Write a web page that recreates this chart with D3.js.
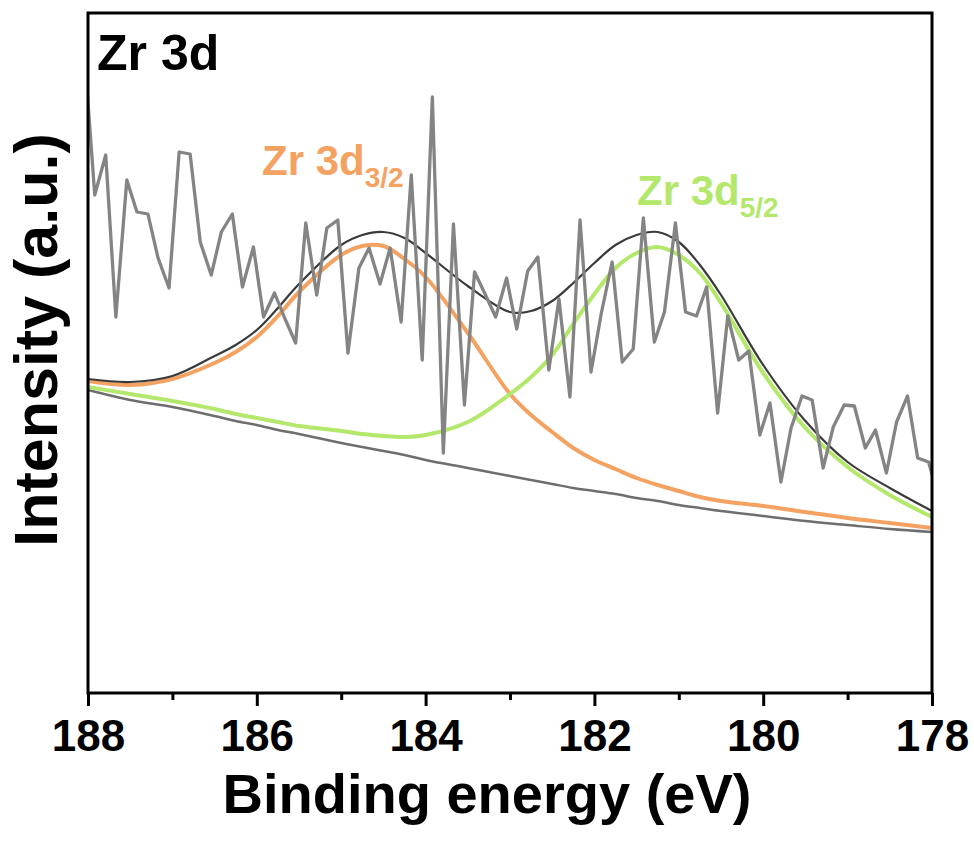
<!DOCTYPE html>
<html>
<head>
<meta charset="utf-8">
<script src="https://cdn.jsdelivr.net/npm/d3@7"></script>
<style>
    body { margin: 0; background: #fff; }
    svg { display: block; font-family: "Liberation Sans", Arial, sans-serif; font-weight: bold; }
</style>
</head>
<body>
<svg id="chart" width="974" height="843"></svg>
<script>
/*************************************************************************/

// raw Zr 3d spectrum (binding energy, intensity in a.u.)
const rawBE = [188.04,
    187.92, 187.79, 187.67, 187.54, 187.42, 187.29, 187.17, 187.04,
    186.92, 186.79, 186.67, 186.54, 186.42, 186.29, 186.17, 186.04,
    185.92, 185.79, 185.67, 185.54, 185.42, 185.29, 185.17, 185.04,
    184.92, 184.79, 184.67, 184.54, 184.42, 184.29, 184.17, 184.04,
    183.92, 183.79, 183.67, 183.54, 183.42, 183.29, 183.17, 183.04,
    182.92, 182.79, 182.67, 182.54, 182.42, 182.29, 182.17, 182.04,
    181.92, 181.79, 181.67, 181.54, 181.42, 181.29, 181.17, 181.04,
    180.92, 180.79, 180.67, 180.54, 180.42, 180.29, 180.17, 180.04,
    179.92, 179.79, 179.67, 179.54, 179.42, 179.29, 179.17, 179.04,
    178.92, 178.79, 178.67, 178.54, 178.42, 178.29, 178.17, 178.04,
    177.92];
const rawCounts = [637,
    498, 538, 376, 513, 481, 479, 435, 405,
    541, 539, 451, 418, 461, 479, 406, 446,
    376, 400, 375, 350, 470, 398, 465, 473,
    340, 425, 445, 409, 445, 371, 518, 333,
    596, 240, 469, 288, 421, 398, 376, 415,
    364, 422, 436, 323, 394, 296, 473, 321,
    379, 431, 331, 344, 475, 351, 381, 470,
    381, 377, 406, 280, 377, 333, 342, 258,
    290, 211, 265, 297, 293, 225, 266, 288,
    287, 245, 263, 220, 271, 297, 235, 231,
    194];

// fitted curves
const fitBE      = [188, 187.5, 187, 186.5, 186.25, 186, 185.75, 185.5, 185, 184.75, 184.5, 184.25, 184, 183.5, 183, 182.75, 182.5, 182.25, 182, 181.75, 181.5, 181.25, 181, 180.75, 180.5, 180, 179.5, 179, 178.5, 178];
const background = [303, 293, 286, 277, 272, 268, 263, 259, 250, 246, 242, 238, 233, 225, 217, 213, 209, 205, 202, 199, 195, 192, 188, 185, 182, 177, 172, 168, 164, 161];
const peak32     = [312, 308, 314, 330, 341, 356, 377, 401, 438, 447, 447, 434, 416, 360, 299, 278, 261, 245, 233, 224, 215, 208, 202, 196, 192, 187, 181, 175, 170, 165];
const peak52     = [306, 299, 292, 284, 279, 275, 271, 267, 262, 259, 257, 256, 258, 271, 299, 316, 338, 369, 399, 425, 440, 446, 438, 420, 390, 320, 265, 226, 198, 176];
const envelope   = [314, 311, 317, 337, 348, 363, 385, 409, 448, 458, 461, 455, 440, 407, 381, 382, 392, 410, 430, 448, 458, 461, 451, 428, 398, 328, 272, 231, 205, 182];

const xTicks      = [188, 186, 184, 182, 180, 178];
const xMinorTicks = [187, 185, 183, 181, 179];

/*************************************************************************/

const svg = d3.select('#chart');

const x = d3.scaleLinear().domain([188, 178]).range([88, 932]);
const y = d3.scaleLinear().domain([0, 680]).range([693, 13]);

svg.append('defs').append('clipPath')
    .attr('id', 'plotclip')
    .append('rect')
    .attr('x', x(188)).attr('y', y(680))
    .attr('width', x(178) - x(188)).attr('height', y(0) - y(680));

const line = d3.line()
    .x(d => x(d[0]))
    .y(d => y(d[1]))
    .curve(d3.curveCatmullRom.alpha(0.5));

const plot = svg.append('g').attr('clip-path', 'url(#plotclip)');

const curves = [
    { values: background, color: '#6e6e6e', width: 2.5 },
    { values: peak32,     color: '#f4a261', width: 4 },
    { values: peak52,     color: '#b4e86c', width: 4 },
    { values: envelope,   color: '#3a3a3a', width: 2.2 }
];

plot.selectAll('path.fit')
    .data(curves)
    .enter().append('path')
    .attr('class', 'fit')
    .attr('d', c => line(fitBE.map((e, i) => [e, c.values[i]])))
    .style('fill', 'none')
    .style('stroke', c => c.color)
    .style('stroke-width', c => c.width);

plot.append('path')
    .attr('d', d3.line().x(d => x(d[0])).y(d => y(d[1]))(rawBE.map((e, i) => [e, rawCounts[i]])))
    .style('fill', 'none')
    .style('stroke', '#848484')
    .style('stroke-width', 3.3)
    .style('stroke-linejoin', 'round');

/*************************************************************************/

// frame and bottom axis
const axis = svg.append('g').attr('transform', 'translate(0,' + y(0) + ')');

axis.call(d3.axisBottom(x).tickValues(xMinorTicks).tickSize(7).tickFormat(''));
axis.append('g').call(d3.axisBottom(x).tickValues(xTicks).tickSize(13).tickPadding(14).tickFormat(d3.format('d')));

axis.selectAll('.domain').remove();
axis.selectAll('line').style('stroke', '#000').style('stroke-width', 3);
axis.selectAll('text')
    .style('font-size', '44px')
    .style('font-weight', 'bold')
    .style('fill', '#000')
    .style('font-family', '"Liberation Sans", Arial, sans-serif');

svg.append('rect')
    .attr('x', x(188)).attr('y', y(680))
    .attr('width', x(178) - x(188)).attr('height', y(0) - y(680))
    .style('fill', 'none')
    .style('stroke', '#000')
    .style('stroke-width', 3);

/*************************************************************************/

svg.append('text')
    .attr('x', 487).attr('y', 813)
    .attr('text-anchor', 'middle')
    .style('font-size', '56px')
    .text('Binding energy (eV)');

svg.append('text')
    .attr('transform', 'translate(57,340) rotate(-90)')
    .attr('text-anchor', 'middle')
    .style('font-size', '61px')
    .text('Intensity (a.u.)');

svg.append('text')
    .attr('x', 97).attr('y', 70)
    .style('font-size', '50px')
    .text('Zr 3d');

function peakLabel(px, py, sub, color){
    const t = svg.append('text')
        .attr('x', px).attr('y', py)
        .style('font-size', '42px')
        .style('fill', color);
    t.append('tspan').text('Zr 3d');
    t.append('tspan').attr('dy', 12).style('font-size', '28px').text(sub);
}

peakLabel(262, 175, '3/2', '#f4a261');
peakLabel(637, 205, '5/2', '#b4e86c');

/*************************************************************************/
</script>
</body>
</html>
